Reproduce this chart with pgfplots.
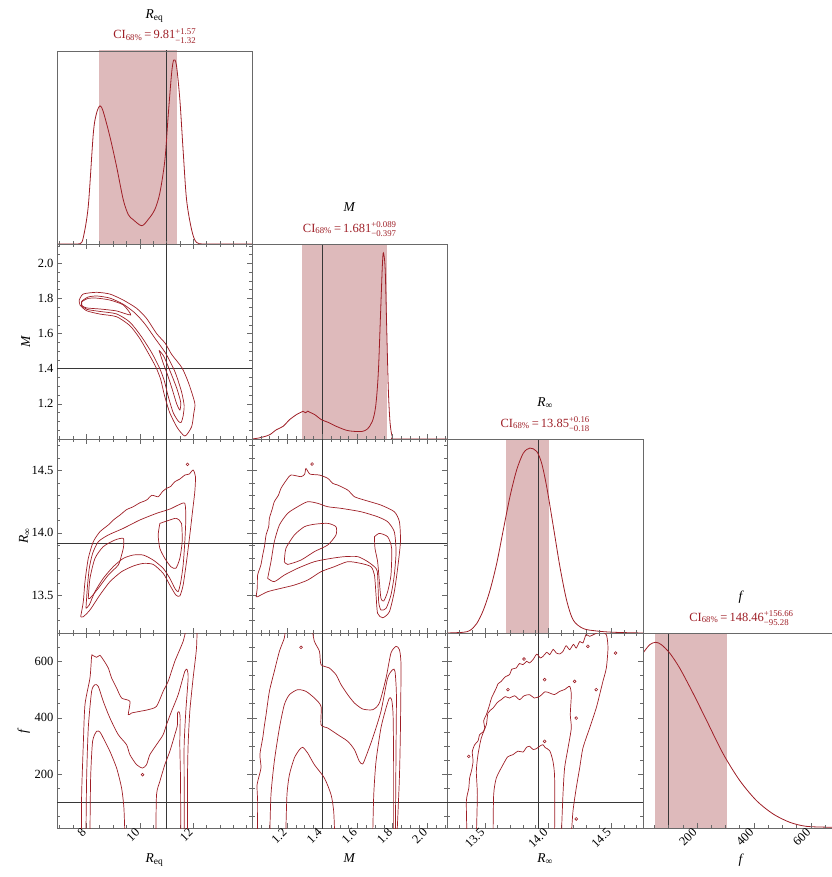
\documentclass[border=0pt]{standalone}
\usepackage{fontspec}
\setmainfont{Liberation Serif}
\usepackage{pgfplots}
\pgfplotsset{compat=1.18}
\definecolor{cred}{RGB}{158,30,38}
\definecolor{cipink}{RGB}{222,186,187}
\definecolor{tcol}{RGB}{55,55,55}
\definecolor{fcol}{RGB}{105,105,105}
\newcommand\Req{\textit{R}\textsubscript{eq}}
\newcommand\Rinf{\textit{R}\textsubscript{∞}}
\newcommand\CI[3]{{\color{cred}CI\textsubscript{68\%}\,=\,#1\raisebox{-0.5pt}{\fontsize{8.8}{9.6}\selectfont\setlength{\tabcolsep}{0pt}\begin{tabular}[c]{@{}l@{}}#2\\#3\end{tabular}}}}
\pgfplotsset{
 cbase/.style={scale only axis, clip mode=individual, anchor=north west,
   axis line style={fcol, line width=0.6pt},
   every tick/.style={fcol, line width=0.5pt},
   major tick length=5pt, minor tick length=3pt, tick align=inside,
   tick label style={font=\fontsize{12.5}{14}\selectfont},
   /pgf/number format/assume math mode=true,
   xlabel style={font=\fontsize{13.5}{15}\selectfont, at={(axis description cs:0.5,-0.115)}, anchor=north},
   ylabel style={font=\fontsize{13.5}{15}\selectfont, at={(axis description cs:-0.12,0.5)}, anchor=south},
 },
 diag/.style={cbase, xtick pos=left, ytick=\empty, ymin=0, axis on top},
 twod/.style={cbase, xtick pos=both, ytick pos=both, xticklabel pos=left, yticklabel pos=left},
 xReq/.style={xmin=6.9, xmax=14.2, width=195pt, xtick={8,10,12}, minor xtick={7,7.5,...,14}, xticklabels={8,10,12}},
 xM/.style={xmin=1.0, xmax=2.11, width=195pt, xtick={1.2,1.4,1.6,1.8,2.0}, minor xtick={1.05,1.1,...,2.1}, xticklabels={1.2,1.4,1.6,1.8,2.0}},
 xR/.style={xmin=13.2, xmax=14.75, width=196pt, xtick={13.5,14,14.5}, minor xtick={13.3,13.4,...,14.7}, xticklabels={13.5,14.0,14.5}},
 xF/.style={xmin=10, xmax=700, width=196.3pt, xtick={200,400,600}, minor xtick={50,100,...,700}, xticklabels={200,400,600}},
 yM/.style={ymin=1.0, ymax=2.11, height=195pt, ytick={1.2,1.4,1.6,1.8,2.0}, minor ytick={1.05,1.1,...,2.1}, yticklabels={1.2,1.4,1.6,1.8,2.0}},
 yR/.style={ymin=13.2, ymax=14.75, height=194pt, ytick={13.5,14,14.5}, minor ytick={13.3,13.4,...,14.7}, yticklabels={13.5,14.0,14.5}},
 yF/.style={ymin=10, ymax=700, height=195pt, ytick={200,400,600}, minor ytick={50,100,...,700}, yticklabels={200,400,600}},
 noxl/.style={xticklabels={}},
 noyl/.style={yticklabels={}},
 rot/.style={xticklabel style={rotate=45, anchor=east}},
 tl/.style={tcol, line width=0.6pt, no markers},
 dens/.style={cred, line width=0.8pt, smooth, tension=0.5, no markers},
 ct/.style={cred, line width=0.7pt, smooth, tension=0.4, no markers},
 isl/.style={cred, only marks, mark=o, mark size=1.4pt, mark options={line width=0.6pt}},
 band/.style={fill=cipink, draw=none},
}
\begin{document}
\begin{tikzpicture}
\useasboundingbox (0pt,0pt) rectangle (831pt,-877pt);
% ---------- row 1 : Req marginal
\begin{axis}[diag, xReq, noxl, height=193pt, ymax=1.045, at={(57pt,-51pt)}]
\addplot[band] coordinates {(8.49,0) (8.49,2) (11.38,2) (11.38,0)} -- cycle;
\addplot[tl] coordinates {(11,0) (11,2)};
\addplot[dens] coordinates {(6.9,0) (7.5,0) (7.76,0.002) (7.88,0.032) (8.07,0.204) (8.26,0.600) (8.38,0.708) (8.51,0.748) (8.63,0.717) (8.88,0.582) (9.13,0.420) (9.38,0.240) (9.57,0.159) (9.75,0.132) (10.07,0.099) (10.31,0.132) (10.56,0.186) (10.75,0.276) (10.94,0.456) (11.06,0.690) (11.19,0.924) (11.27,0.996) (11.37,0.969) (11.50,0.780) (11.62,0.510) (11.75,0.240) (11.94,0.077) (12.12,0.009) (12.5,0) (14.2,0)};
\node[anchor=base, font=\fontsize{13.5}{15}\selectfont] at ([yshift=32.5pt]axis description cs:0.5,1) {\Req};
\node[anchor=base, font=\fontsize{12.5}{14}\selectfont] at ([yshift=12pt]axis description cs:0.5,1) {\CI{9.81}{+1.57}{−1.32}};
\end{axis}
% ---------- row 2
\begin{axis}[twod, xReq, yM, noxl, ylabel={\textit{M}}, at={(57pt,-244pt)}]
\addplot[tl] coordinates {(11,0.5) (11,3)};
\addplot[tl] coordinates {(5,1.4) (15,1.4)};
\addplot[ct] coordinates {(7.73,1.791) (7.88,1.825) (8.38,1.835) (8.88,1.825) (9.38,1.791) (9.88,1.744) (10.25,1.687) (10.63,1.600) (10.95,1.545) (11.20,1.480) (11.58,1.405) (11.83,1.317) (12.06,1.203) (12.02,1.146) (11.94,1.070) (11.69,1.017) (11.40,1.065) (11.12,1.150) (10.92,1.250) (10.78,1.340) (10.60,1.410) (10.35,1.480) (10.00,1.572) (9.63,1.645) (9.13,1.696) (8.51,1.711) (8.01,1.730) (7.76,1.763) (7.73,1.791)};
\addplot[ct] coordinates {(7.83,1.785) (8.06,1.808) (8.40,1.814) (8.88,1.802) (9.37,1.768) (9.82,1.717) (10.19,1.655) (10.56,1.575) (10.98,1.485) (11.32,1.381) (11.56,1.270) (11.66,1.190) (11.62,1.130) (11.55,1.095) (11.45,1.100) (11.25,1.150) (11.05,1.250) (10.92,1.330) (10.75,1.400) (10.45,1.490) (10.05,1.585) (9.63,1.665) (9.13,1.712) (8.51,1.726) (8.02,1.738) (7.83,1.760) (7.83,1.785)};
\addplot[ct] coordinates {(7.82,1.781) (8.06,1.800) (8.38,1.802) (8.88,1.791) (9.38,1.763) (9.66,1.706) (9.13,1.729) (8.51,1.740) (8.01,1.746) (7.82,1.760) (7.82,1.781)};
\addplot[ct] coordinates {(10.72,1.505) (10.90,1.47) (11.15,1.38) (11.38,1.29) (11.53,1.21) (11.50,1.165) (11.38,1.20) (11.22,1.28) (11.05,1.36) (10.88,1.43) (10.72,1.505)};
\end{axis}
\begin{axis}[diag, xM, noxl, height=195pt, ymax=1.048, at={(252pt,-244pt)}]
\addplot[band] coordinates {(1.284,0) (1.284,2) (1.770,2) (1.770,0)} -- cycle;
\addplot[tl] coordinates {(1.4,0) (1.4,2)};
\addplot[dens] coordinates {(1.0,0) (1.03,0.004) (1.063,0.011) (1.101,0.023) (1.139,0.050) (1.177,0.068) (1.214,0.104) (1.253,0.131) (1.275,0.142) (1.290,0.149) (1.305,0.141) (1.318,0.150) (1.328,0.144) (1.357,0.131) (1.395,0.104) (1.432,0.090) (1.480,0.068) (1.537,0.047) (1.581,0.041) (1.628,0.041) (1.657,0.054) (1.685,0.095) (1.704,0.176) (1.719,0.356) (1.732,0.680) (1.742,0.932) (1.748,1.0) (1.758,0.914) (1.767,0.590) (1.776,0.266) (1.786,0.086) (1.799,0.011) (1.818,0) (2.11,0)};
\node[anchor=base, font=\fontsize{13.5}{15}\selectfont] at ([yshift=32.5pt]axis description cs:0.5,1) {\textit{M}};
\node[anchor=base, font=\fontsize{12.5}{14}\selectfont] at ([yshift=12pt]axis description cs:0.5,1) {\CI{1.681}{+0.089}{−0.397}};
\end{axis}
% ---------- row 3
\begin{axis}[twod, xReq, yR, noxl, ylabel={\Rinf}, at={(57pt,-439pt)}]
\addplot[tl] coordinates {(11,13) (11,15)};
\addplot[tl] coordinates {(5,13.92) (15,13.92)};
\addplot[ct] coordinates {(7.785,13.330) (7.884,13.450) (7.947,13.610) (8.071,13.796) (8.258,13.929) (8.507,14.009) (8.819,14.063) (9.05,14.110) (9.255,14.142) (9.50,14.185) (9.753,14.209) (10.00,14.240) (10.252,14.262) (10.45,14.300) (10.688,14.289) (10.85,14.330) (11.00,14.356) (11.15,14.370) (11.311,14.409) (11.50,14.430) (11.685,14.462) (11.85,14.470) (11.996,14.502) (12.084,14.449) (12.059,14.329) (11.972,14.169) (11.872,13.983) (11.748,13.770) (11.622,13.583) (11.498,13.496) (11.349,13.504) (11.124,13.583) (10.874,13.677) (10.501,13.748) (10.127,13.756) (9.753,13.735) (9.318,13.690) (8.881,13.610) (8.507,13.504) (8.134,13.384) (7.884,13.330) (7.785,13.330)};
\addplot[ct] coordinates {(7.984,13.397) (8.034,13.557) (8.108,13.717) (8.233,13.836) (8.445,13.929) (8.819,13.983) (9.380,14.036) (10.003,14.103) (10.626,14.156) (11.124,14.190) (11.436,14.222) (11.685,14.236) (11.722,14.116) (11.685,13.929) (11.622,13.743) (11.535,13.610) (11.436,13.530) (11.311,13.557) (11.124,13.637) (10.874,13.717) (10.501,13.783) (10.127,13.823) (9.753,13.823) (9.380,13.796) (9.006,13.730) (8.632,13.637) (8.321,13.530) (8.108,13.424) (7.984,13.397)};
\addplot[ct] coordinates {(8.071,13.477) (8.134,13.637) (8.321,13.796) (8.632,13.890) (9.068,13.943) (9.380,13.956) (9.392,13.890) (9.318,13.823) (9.193,13.743) (8.819,13.663) (8.445,13.557) (8.134,13.477) (8.071,13.477)};
\addplot[ct] coordinates {(10.751,14.076) (11.124,14.103) (11.374,14.116) (11.560,14.076) (11.585,13.929) (11.498,13.796) (11.349,13.717) (11.161,13.730) (10.937,13.796) (10.751,13.876) (10.688,13.983) (10.751,14.076)};
\addplot[isl] coordinates {(11.785,14.547)};
\end{axis}
\begin{axis}[twod, xM, yR, noxl, noyl, at={(252pt,-439pt)}]
\addplot[tl] coordinates {(1.4,13) (1.4,15)};
\addplot[tl] coordinates {(0.5,13.92) (3,13.92)};
\addplot[ct] coordinates {(1.023,13.490) (1.030,13.560) (1.032,13.663) (1.050,13.740) (1.061,13.823) (1.072,13.900) (1.080,13.983) (1.095,14.050) (1.099,14.116) (1.115,14.190) (1.127,14.249) (1.150,14.300) (1.165,14.356) (1.195,14.420) (1.222,14.462) (1.279,14.449) (1.300,14.470) (1.307,14.515) (1.330,14.470) (1.384,14.462) (1.431,14.436) (1.460,14.395) (1.488,14.382) (1.545,14.342) (1.583,14.289) (1.640,14.262) (1.734,14.222) (1.810,14.169) (1.839,14.089) (1.845,13.929) (1.829,13.717) (1.810,13.530) (1.782,13.370) (1.744,13.322) (1.715,13.357) (1.706,13.504) (1.697,13.663) (1.677,13.730) (1.620,13.756) (1.545,13.770) (1.469,13.730) (1.393,13.690) (1.317,13.623) (1.241,13.583) (1.165,13.557) (1.089,13.530) (1.032,13.490) (1.023,13.490)};
\addplot[ct] coordinates {(1.089,13.637) (1.108,13.770) (1.127,13.929) (1.156,14.063) (1.203,14.156) (1.260,14.209) (1.317,14.249) (1.374,14.236) (1.431,14.209) (1.507,14.196) (1.620,14.169) (1.715,14.129) (1.772,14.089) (1.810,14.009) (1.820,13.850) (1.810,13.663) (1.791,13.504) (1.763,13.397) (1.734,13.384) (1.721,13.450) (1.715,13.663) (1.706,13.717) (1.659,13.770) (1.602,13.810) (1.526,13.810) (1.450,13.796) (1.355,13.770) (1.260,13.717) (1.184,13.663) (1.127,13.610) (1.089,13.637)};
\addplot[ct] coordinates {(1.184,13.770) (1.193,13.876) (1.241,13.983) (1.298,14.049) (1.355,14.069) (1.431,14.076) (1.478,14.049) (1.478,13.983) (1.431,13.903) (1.355,13.850) (1.279,13.783) (1.203,13.748) (1.184,13.770)};
\addplot[ct] coordinates {(1.697,13.969) (1.725,13.996) (1.772,13.969) (1.795,13.876) (1.791,13.663) (1.772,13.530) (1.750,13.456) (1.734,13.477) (1.725,13.610) (1.715,13.770) (1.700,13.876) (1.697,13.969)};
\addplot[isl] coordinates {(1.342,14.55)};
\end{axis}
\begin{axis}[diag, xR, noxl, height=194pt, ymax=1.049, at={(447pt,-439pt)}]
\addplot[band] coordinates {(13.67,0) (13.67,2) (14.01,2) (14.01,0)} -- cycle;
\addplot[tl] coordinates {(13.92,0) (13.92,2)};
\addplot[dens] coordinates {(13.2,0) (13.329,0.004) (13.382,0.014) (13.435,0.051) (13.487,0.123) (13.540,0.231) (13.593,0.376) (13.645,0.557) (13.698,0.738) (13.751,0.882) (13.804,0.973) (13.856,1.0) (13.909,0.982) (13.948,0.919) (13.988,0.792) (14.041,0.575) (14.093,0.358) (14.146,0.177) (14.199,0.069) (14.278,0.024) (14.383,0.011) (14.515,0.004) (14.75,0)};
\node[anchor=base, font=\fontsize{13.5}{15}\selectfont] at ([yshift=32.5pt]axis description cs:0.5,1) {\Rinf};
\node[anchor=base, font=\fontsize{12.5}{14}\selectfont] at ([yshift=12pt]axis description cs:0.5,1) {\CI{13.85}{+0.16}{−0.18}};
\end{axis}
% ---------- row 4
\begin{axis}[twod, xReq, yF, rot, xlabel={\Req}, ylabel={\textit{f}}, at={(57pt,-633pt)}]
\addplot[tl] coordinates {(11,-100) (11,800)};
\addplot[tl] coordinates {(5,100) (15,100)};
\addplot[ct] coordinates {(7.822,-20) (7.822,127.9) (7.884,304.9) (7.947,446.4) (8.134,540.8) (8.196,617.5) (8.233,621.0) (8.383,614.0) (8.507,621.0) (8.632,605.7) (8.819,576.2) (8.944,540.8) (9.131,505.4) (9.318,470.0) (9.629,458.2) (9.567,411.0) (9.691,416.9) (10.003,422.8) (10.314,428.7) (10.626,440.5) (10.874,493.6) (11.061,529.0) (11.311,599.7) (11.622,670.5) (11.809,735.4) (12.122,735.4) (12.122,646.9) (11.996,540.8) (11.872,422.8) (11.809,304.9) (11.785,186.9) (11.785,-20)};
\addplot[ct] coordinates {(7.984,-20) (8.009,186.9) (8.071,363.9) (8.196,493.6) (8.321,517.2) (8.445,511.3) (8.632,458.2) (8.881,399.2) (9.193,340.3) (9.504,304.9) (9.629,269.5) (9.878,234.1) (10.103,222.3) (10.252,234.1) (10.377,269.5) (10.626,304.9) (10.874,340.3) (10.999,375.6) (11.187,422.8) (11.436,481.8) (11.685,564.4) (11.772,570.3) (11.809,540.8) (11.722,422.8) (11.660,304.9) (11.660,186.9) (11.660,-20)};
\addplot[ct] coordinates {(8.134,-20) (8.159,186.9) (8.233,316.7) (8.383,352.1) (8.507,349.7) (8.632,328.5) (8.881,281.3) (9.131,222.3) (9.318,151.5) (9.405,80.8) (9.442,-20)};
\addplot[ct] coordinates {(10.601,-20) (10.626,127.9) (10.751,175.1) (10.937,234.1) (11.124,281.3) (11.311,340.3) (11.411,375.6) (11.411,416.9) (11.473,420.5) (11.510,399.2) (11.498,304.9) (11.523,186.9) (11.535,-20)};
\addplot[isl] coordinates {(10.103,198.7)};
\end{axis}
\begin{axis}[twod, xM, yF, rot, noyl, xlabel={\textit{M}}, at={(252pt,-633pt)}]
\addplot[tl] coordinates {(1.4,-100) (1.4,800)};
\addplot[tl] coordinates {(0.5,100) (3,100)};
\addplot[ct] coordinates {(1.031,-20) (1.032,104.4) (1.029,163.3) (1.051,222.3) (1.045,270) (1.061,328.5) (1.070,370) (1.080,411.0) (1.099,493.6) (1.127,564.4) (1.156,635.2) (1.184,682.3) (1.203,735.4) (1.326,735.4) (1.355,670.5) (1.384,635.2) (1.393,588.0) (1.440,576.2) (1.478,552.6) (1.507,517.2) (1.545,481.8) (1.583,452.3) (1.630,431.1) (1.687,428.7) (1.725,452.3) (1.763,540.8) (1.791,629.2) (1.820,652.8) (1.839,641.0) (1.848,588.0) (1.845,363.9) (1.839,186.9) (1.825,-20)};
\addplot[ct] coordinates {(1.101,-20) (1.108,127.9) (1.127,245.9) (1.156,363.9) (1.184,446.4) (1.213,481.8) (1.260,499.5) (1.307,493.6) (1.355,470.0) (1.393,440.5) (1.393,375.6) (1.431,363.9) (1.488,340.3) (1.545,316.7) (1.583,287.2) (1.611,245.9) (1.630,236.5) (1.649,263.6) (1.687,328.5) (1.734,422.8) (1.772,540.8) (1.801,570.3) (1.814,564.4) (1.822,481.8) (1.820,304.9) (1.816,-20)};
\addplot[ct] coordinates {(1.192,-20) (1.199,127.9) (1.213,198.7) (1.241,257.7) (1.270,287.2) (1.289,295.4) (1.317,275.4) (1.355,234.1) (1.412,186.9) (1.450,127.9) (1.465,69.0) (1.471,-20)};
\addplot[ct] coordinates {(1.687,-20) (1.693,127.9) (1.706,245.9) (1.734,363.9) (1.763,434.6) (1.782,470.0) (1.795,464.1) (1.803,411.0) (1.806,245.9) (1.806,-20)};
\addplot[isl] coordinates {(1.279,649.3)};
\end{axis}
\begin{axis}[twod, xR, yF, rot, noyl, xlabel={\Rinf}, at={(447pt,-633pt)}]
\addplot[tl] coordinates {(13.92,-100) (13.92,800)};
\addplot[tl] coordinates {(13,100) (15,100)};
\addplot[ct] coordinates {(13.358,-20) (13.353,104.4) (13.372,150) (13.379,186.9) (13.395,215) (13.406,245.9) (13.400,280) (13.419,304.9) (13.445,318) (13.458,340.3) (13.485,350) (13.498,363.9) (13.490,390) (13.511,411.0) (13.537,446.4) (13.552,470) (13.590,505.4) (13.603,520) (13.629,529.0) (13.660,545) (13.695,552.6) (13.712,572) (13.748,576.2) (13.772,592) (13.801,588.0) (13.830,600) (13.852,594) (13.880,605.7) (13.910,625) (13.938,612) (13.959,617.5) (13.990,632) (14.012,623.3) (14.040,642) (14.064,629.2) (14.092,626) (14.117,635.2) (14.142,655) (14.170,641.0) (14.200,660) (14.222,646.9) (14.250,670) (14.275,664.6) (14.300,695) (14.328,688.2) (14.407,703.6) (14.460,694.1) (14.473,646.9) (14.460,576.2) (14.433,529.0) (14.407,481.8) (14.380,434.6) (14.328,363.9) (14.275,293.1) (14.249,222.3) (14.222,151.5) (14.196,69.0) (14.183,-20)};
\addplot[ct] coordinates {(13.432,-20) (13.440,127.9) (13.432,210.5) (13.445,269.5) (13.471,328.5) (13.511,375.6) (13.524,416.9) (13.564,434.6) (13.600,455) (13.629,464.1) (13.660,475) (13.695,470.0) (13.735,478) (13.774,464.1) (13.810,478) (13.854,481.8) (13.890,470) (13.933,475.9) (13.975,492) (14.012,487.7) (14.050,482) (14.091,493.6) (14.130,500) (14.170,511.3) (14.183,481.8) (14.175,411.0) (14.183,363.9) (14.157,293.1) (14.130,222.3) (14.117,127.9) (14.104,-20)};
\addplot[ct] coordinates {(13.564,-20) (13.569,127.9) (13.590,186.9) (13.643,234.1) (13.680,262) (13.722,269.5) (13.760,282) (13.801,278.9) (13.830,296) (13.854,299.0) (13.880,288) (13.906,290.7) (13.935,300) (13.959,304.9) (13.975,295) (14.012,283.6) (14.038,245.9) (14.051,186.9) (14.051,-20)};
\addplot[isl] coordinates {(13.372,263.6) (13.682,499.5) (13.972,534.9) (14.209,529) (13.972,316.7) (14.380,499.5) (14.222,399) (14.314,652.8) (14.533,629) (13.809,608) (14.222,42)};
\end{axis}
\begin{axis}[diag, xF, rot, height=195pt, ymax=1.05, xlabel={\textit{f}}, at={(643pt,-633pt)}]
\addplot[band] coordinates {(53.18,0) (53.18,2) (305.12,2) (305.12,0)} -- cycle;
\addplot[tl] coordinates {(100,0) (100,2)};
\addplot[dens] coordinates {(10,0.942) (33.5,0.987) (54.6,1.0) (74.6,0.987) (103.8,0.942) (139,0.861) (185.8,0.726) (232.9,0.581) (291.2,0.401) (349.9,0.256) (408.6,0.148) (466.9,0.076) (525.6,0.031) (584.3,0.009) (669.8,0.004) (700,0.003)};
\node[anchor=base, font=\fontsize{13.5}{15}\selectfont] at ([yshift=32.5pt]axis description cs:0.5,1) {\textit{f}};
\node[anchor=base, font=\fontsize{12.5}{14}\selectfont] at ([yshift=12pt]axis description cs:0.5,1) {\CI{148.46}{+156.66}{−95.28}};
\end{axis}
\end{tikzpicture}
\end{document}
